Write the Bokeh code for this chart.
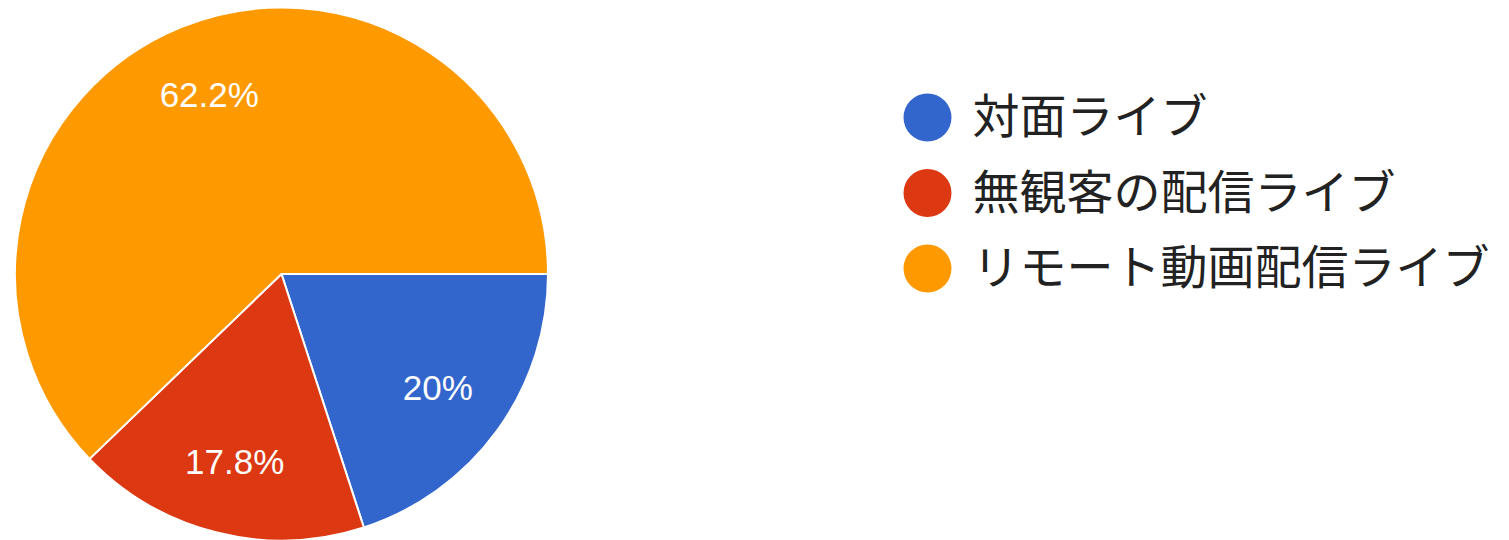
import math
from bokeh.plotting import figure
from bokeh.models import Range1d, ColumnDataSource
from bokeh.core.properties import value
from bokeh.embed import file_html
from bokeh.resources import INLINE

categories = ["対面ライブ", "無観客の配信ライブ", "リモート動画配信ライブ"]
percent = [20.0, 17.8, 62.2]
colors = ["#3366CC", "#DC3912", "#FF9900"]

W, H = 1509, 540
p = figure(width=W, height=H, output_backend="svg", toolbar_location=None,
           x_range=Range1d(0, W), y_range=Range1d(-H, 0),
           min_border=0)
p.axis.visible = False
p.grid.visible = False
p.outline_line_color = None
p.background_fill_color = "white"

cx, cy, r = 281, -273.5, 266.5

starts, ends, lx, ly, labels = [], [], [], [], []
acc = 0.0
total = sum(percent)
for v in percent:
    a0 = -2 * math.pi * acc / total
    acc += v
    a1 = -2 * math.pi * acc / total
    starts.append(a0)
    ends.append(a1)
    mid = (a0 + a1) / 2
    lx.append(cx + 0.725 * r * math.cos(mid))
    ly.append(cy + 0.725 * r * math.sin(mid))
    labels.append(f"{v:g}%")

src = ColumnDataSource(dict(start=starts, end=ends, color=colors))
p.wedge(x=cx, y=cy, radius=r, start_angle="start", end_angle="end",
        direction="clock", fill_color="color", line_color="white",
        line_width=2, source=src)

p.text(x=lx, y=ly, text=labels, text_color="white",
       text_font=value("Liberation Sans"), text_font_size="35px",
       text_align="center", text_baseline="middle")

# legend
leg_x, leg_y0, leg_dy = 927, -117, -75.5
ys = [leg_y0 + i * leg_dy for i in range(len(categories))]
p.scatter(x=[leg_x] * len(categories), y=ys, size=48, marker="circle",
          fill_color=colors, line_color=None)
p.text(x=[leg_x + 45] * len(categories), y=[y + 5 for y in ys], text=categories,
       text_color="#222222", text_font=value("Noto Sans CJK JP"),
       text_font_size="47px", text_align="left", text_baseline="middle")

open("out.html", "w").write(file_html(p, INLINE))
